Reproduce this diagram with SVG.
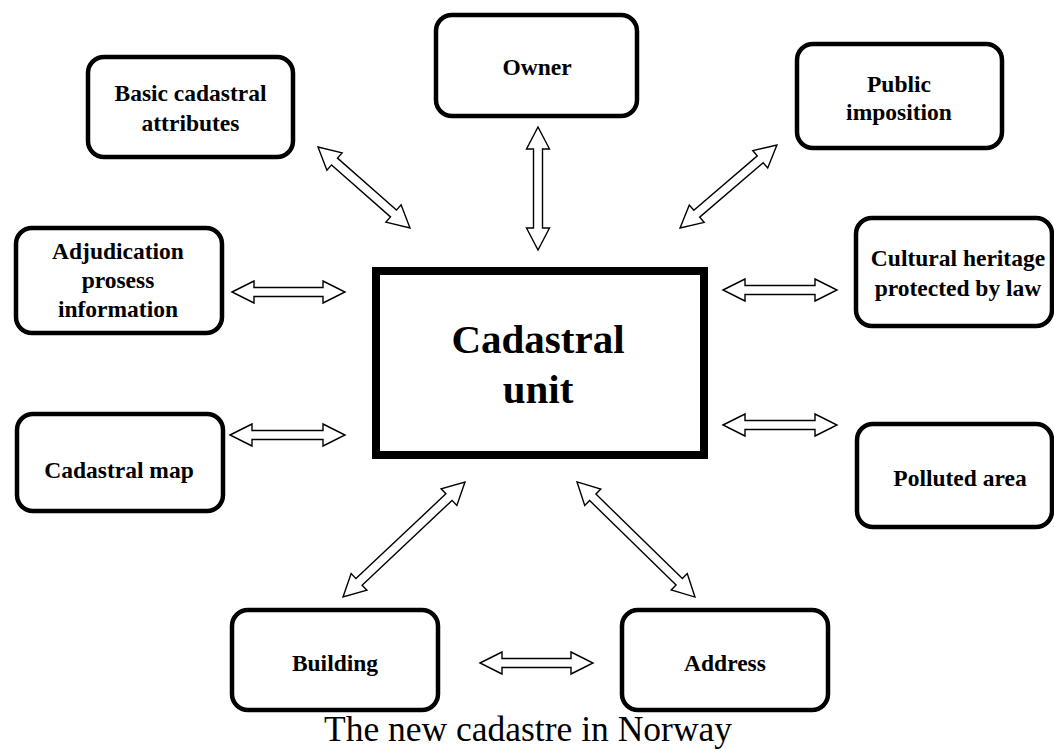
<svg xmlns="http://www.w3.org/2000/svg" width="1054" height="749" viewBox="0 0 1054 749">
<style>
.box{fill:#fff;stroke:#000;stroke-width:4.5}
.main{fill:#fff;stroke:#000;stroke-width:8}
.lbl{font-family:"Liberation Serif","Times New Roman",serif;font-weight:bold;font-size:23.5px;text-anchor:middle;fill:#000}
.big{font-family:"Liberation Serif","Times New Roman",serif;font-weight:bold;font-size:41px;text-anchor:middle;fill:#000}
.cap{font-family:"Liberation Serif","Times New Roman",serif;font-size:35.5px;text-anchor:middle;fill:#000}
.arr{fill:#fff;stroke:#000;stroke-width:1.4;stroke-linejoin:miter}
</style>
<rect width="1054" height="749" fill="#fff"/>
<g id="connectors">
<polygon class="arr" points="-56.5,0 -34.5,-11 -34.5,-4.5 34.5,-4.5 34.5,-11 56.5,0 34.5,11 34.5,4.5 -34.5,4.5 -34.5,11" transform="translate(288.5,292)"/>
<polygon class="arr" points="-57.5,0 -35.5,-11 -35.5,-4.5 35.5,-4.5 35.5,-11 57.5,0 35.5,11 35.5,4.5 -35.5,4.5 -35.5,11" transform="translate(287.5,435)"/>
<polygon class="arr" points="-57,0 -35,-11 -35,-4.5 35,-4.5 35,-11 57,0 35,11 35,4.5 -35,4.5 -35,11" transform="translate(780,290)"/>
<polygon class="arr" points="-57,0 -35,-11 -35,-4.5 35,-4.5 35,-11 57,0 35,11 35,4.5 -35,4.5 -35,11" transform="translate(780,425)"/>
<polygon class="arr" points="-56.5,0 -34.5,-11 -34.5,-4.5 34.5,-4.5 34.5,-11 56.5,0 34.5,11 34.5,4.5 -34.5,4.5 -34.5,11" transform="translate(536.5,663)"/>
<polygon class="arr" points="-61.5,0 -39.5,-11.5 -39.5,-4.5 39.5,-4.5 39.5,-11.5 61.5,0 39.5,11.5 39.5,4.5 -39.5,4.5 -39.5,11.5" transform="translate(538,188.5) rotate(90)"/>
<polygon class="arr" points="-61.3,0 -39.3,-11.5 -39.3,-4.5 39.3,-4.5 39.3,-11.5 61.3,0 39.3,11.5 39.3,4.5 -39.3,4.5 -39.3,11.5" transform="translate(364,187.5) rotate(41.4)"/>
<polygon class="arr" points="-63.8,0 -41.8,-11.5 -41.8,-4.5 41.8,-4.5 41.8,-11.5 63.8,0 41.8,11.5 41.8,4.5 -41.8,4.5 -41.8,11.5" transform="translate(728.5,186.5) rotate(-40.6)"/>
<polygon class="arr" points="-83.8,0 -61.8,-11.5 -61.8,-4.5 61.8,-4.5 61.8,-11.5 83.8,0 61.8,11.5 61.8,4.5 -61.8,4.5 -61.8,11.5" transform="translate(404,539.5) rotate(-43.3)"/>
<polygon class="arr" points="-82.4,0 -60.4,-11.5 -60.4,-4.5 60.4,-4.5 60.4,-11.5 82.4,0 60.4,11.5 60.4,4.5 -60.4,4.5 -60.4,11.5" transform="translate(636,539.5) rotate(44.3)"/>
</g>
<g id="basic">
<rect class="box" x="88" y="57" width="205" height="100" rx="16"/>
<text class="lbl" x="190.5" y="101">Basic cadastral</text>
<text class="lbl" x="190.5" y="131">attributes</text>
</g>
<g id="owner">
<rect class="box" x="436" y="15" width="201" height="101" rx="16"/>
<text class="lbl" x="537" y="75">Owner</text>
</g>
<g id="public">
<rect class="box" x="797" y="44" width="205" height="104" rx="16"/>
<text class="lbl" x="899" y="92">Public</text>
<text class="lbl" x="899" y="120">imposition</text>
</g>
<g id="adjudication">
<rect class="box" x="16" y="228" width="206" height="105" rx="16"/>
<text class="lbl" x="118" y="259">Adjudication</text>
<text class="lbl" x="118" y="288">prosess</text>
<text class="lbl" x="118" y="317">information</text>
</g>
<g id="cultural">
<rect class="box" x="856" y="218" width="196" height="108" rx="16"/>
<text class="lbl" x="958" y="266">Cultural heritage</text>
<text class="lbl" x="958" y="296">protected by law</text>
</g>
<g id="cadastral-map">
<rect class="box" x="17" y="414" width="206" height="97" rx="16"/>
<text class="lbl" x="119" y="478">Cadastral map</text>
</g>
<g id="polluted">
<rect class="box" x="857" y="424" width="195" height="103" rx="16"/>
<text class="lbl" x="960" y="486">Polluted area</text>
</g>
<g id="building">
<rect class="box" x="232" y="610" width="206" height="100" rx="16"/>
<text class="lbl" x="335" y="671">Building</text>
</g>
<g id="address">
<rect class="box" x="622" y="610" width="206" height="100" rx="16"/>
<text class="lbl" x="725" y="671">Address</text>
</g>
<g id="cadastral-unit">
<rect class="main" x="376" y="271" width="328" height="184"/>
<text class="big" x="538" y="353">Cadastral</text>
<text class="big" x="538" y="403">unit</text>
</g>
<text class="cap" x="528" y="741">The new cadastre in Norway</text>
</svg>
